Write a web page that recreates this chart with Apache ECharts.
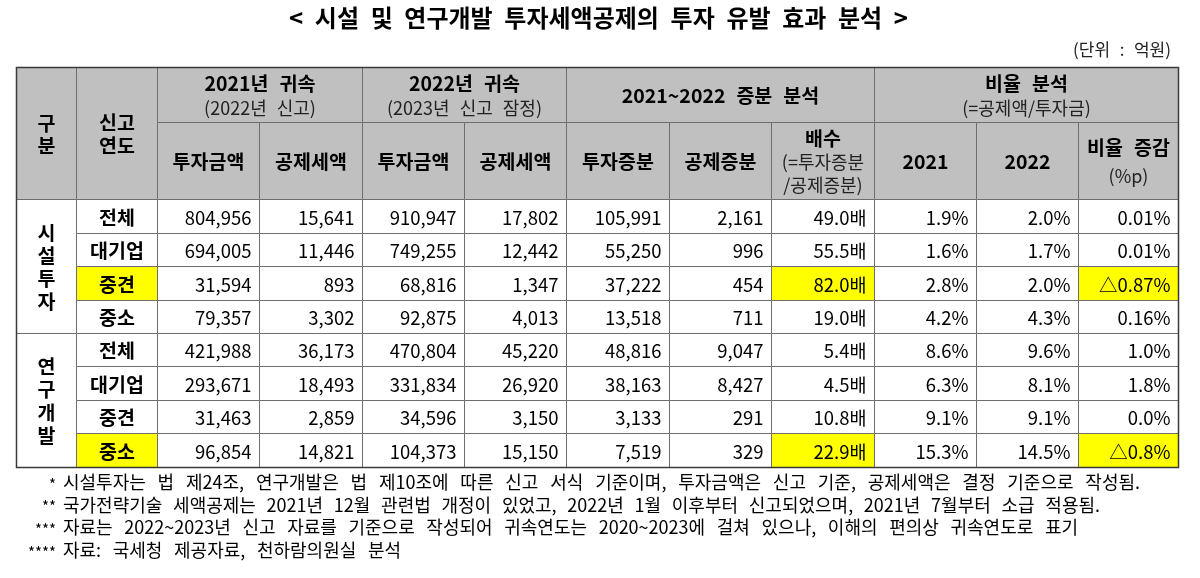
<!DOCTYPE html>
<html><head><meta charset="utf-8">
<script src="https://cdn.jsdelivr.net/npm/echarts@6/dist/echarts.min.js"></script>
<style>html,body{margin:0;padding:0;background:#fff}#c{width:1200px;height:578px}</style>
</head><body><div id="c"></div>
<script>
// ---- data ----
const titleText = '< 시설 및 연구개발 투자세액공제의 투자 유발 효과 분석 >';
const unitText = '(단위 : 억원)';
const groups = ['시설투자', '연구개발'];
const rowLabels = ['전체', '대기업', '중견', '중소', '전체', '대기업', '중견', '중소'];
const invest2021 = [804956, 694005, 31594, 79357, 421988, 293671, 31463, 96854];
const credit2021 = [15641, 11446, 893, 3302, 36173, 18493, 2859, 14821];
const invest2022 = [910947, 749255, 68816, 92875, 470804, 331834, 34596, 104373];
const credit2022 = [17802, 12442, 1347, 4013, 45220, 26920, 3150, 15150];
const investInc = [105991, 55250, 37222, 13518, 48816, 38163, 3133, 7519];
const creditInc = [2161, 996, 454, 711, 9047, 8427, 291, 329];
const multiple = [49.0, 55.5, 82.0, 19.0, 5.4, 4.5, 10.8, 22.9];
const ratio2021 = [1.9, 1.6, 2.8, 4.2, 8.6, 6.3, 9.1, 15.3];
const ratio2022 = [2.0, 1.7, 2.0, 4.3, 9.6, 8.1, 9.1, 14.5];
const ratioChange = ['0.01%', '0.01%', '△0.87%', '0.16%', '1.0%', '1.8%', '0.0%', '△0.8%'];
const highlighted = [[2, 1], [2, 8], [2, 11], [7, 1], [7, 8], [7, 11]];
const footMarks = ['*', '**', '***', '****'];
const footTexts = [
  '시설투자는 법 제24조, 연구개발은 법 제10조에 따른 신고 서식 기준이며, 투자금액은 신고 기준, 공제세액은 결정 기준으로 작성됨.',
  '국가전략기술 세액공제는 2021년 12월 관련법 개정이 있었고, 2022년 1월 이후부터 신고되었으며, 2021년 7월부터 소급 적용됨.',
  '자료는 2022~2023년 신고 자료를 기준으로 작성되어 귀속연도는 2020~2023에 걸쳐 있으나, 이해의 편의상 귀속연도로 표기',
  '자료: 국세청 제공자료, 천하람의원실 분석'
];

// ---- layout ----
const colEdges = [0, 60, 141, 243, 346, 448, 550, 653, 755, 858, 960, 1062, 1162];
const rowEdges = [0, 55, 132.6];
for (let i = 1; i <= 8; i++) rowEdges.push(132.6 + i * 33.43);
const footEnds = [1140, 1100, 1078, 401];
const FONT = '"Noto Sans CJK KR", "Noto Sans", sans-serif';
const HEAD_BG = '#c0c0c0', YEL = '#ffff00';
const BOLD_SIZE = 19.5, SUB_SIZE = 18, NUM_SIZE = 18.5;

const mctx = document.createElement('canvas').getContext('2d');
function measure(t, font) { mctx.font = font; return mctx.measureText(t).width; }
function spaced(text, size, weight, target) {
  const font = weight + ' ' + size + 'px ' + FONT;
  const words = text.split(' ');
  const w = words.reduce((s, x) => s + measure(x, font), 0);
  const sp = words.length > 1 ? Math.max(3, (target - w) / (words.length - 1)) : 0;
  return {text: words.join('{s| }'), rich: {s: {width: sp, fontSize: size, fontFamily: FONT}}};
}
const tok = (st, t) => t.split(' ').map(w => '{' + st + '|' + w + '}').join('{s' + st + '| }');

const fmt = v => v.toLocaleString('en-US');
const cells = [];
function add(c0, c1, r0, r1, text, o) { cells.push(Object.assign({c0, c1, r0, r1, text}, o || {})); }
add(0, 1, 0, 2, '구\n분', {head: true, bold: true, lh: 22});
add(1, 2, 0, 2, '신고\n연도', {head: true, bold: true, lh: 23});
add(2, 4, 0, 1, tok('b', '2021년 귀속') + '\n' + tok('n', '(2022년 신고)'), {head: true});
add(4, 6, 0, 1, tok('b', '2022년 귀속') + '\n' + tok('n', '(2023년 신고 잠정)'), {head: true});
add(6, 9, 0, 1, tok('b', '2021~2022 증분 분석'), {head: true});
add(9, 12, 0, 1, tok('b', '비율 분석') + '\n' + tok('n', '(=공제액/투자금)'), {head: true});
const sub = ['투자금액', '공제세액', '투자금액', '공제세액', '투자증분', '공제증분'];
sub.forEach((t, i) => add(2 + i, 3 + i, 1, 2, t, {head: true, bold: true}));
add(8, 9, 1, 2, tok('b', '배수') + '\n' + tok('n', '(=투자증분') + '\n' + tok('n', '/공제증분)'), {head: true, lh: 23});
add(9, 10, 1, 2, '2021', {head: true, bold: true});
add(10, 11, 1, 2, '2022', {head: true, bold: true});
add(11, 12, 1, 2, tok('b', '비율 증감') + '\n' + tok('n', '(%p)'), {head: true, lh: 28});
groups.forEach((g, gi) => add(0, 1, 2 + gi * 4, 6 + gi * 4, g.split('').join('\n'), {bold: true, lh: 23}));
const isHi = (r, c) => highlighted.some(h => h[0] === r && h[1] === c);
rowLabels.forEach((lab, r) => {
  const rr = 2 + r;
  add(1, 2, rr, rr + 1, lab, {bold: true, bg: isHi(r, 1) ? YEL : '#fff'});
  const vals = [fmt(invest2021[r]), fmt(credit2021[r]), fmt(invest2022[r]), fmt(credit2022[r]),
    fmt(investInc[r]), fmt(creditInc[r]), multiple[r].toFixed(1) + '배',
    ratio2021[r].toFixed(1) + '%', ratio2022[r].toFixed(1) + '%', ratioChange[r]];
  vals.forEach((v, i) => add(2 + i, 3 + i, rr, rr + 1, v, {right: true, bg: isHi(r, 2 + i) ? YEL : '#fff'}));
});

function renderItem(params, api) {
  const cell = cells[params.dataIndex];
  const p0 = api.coord([colEdges[cell.c0], rowEdges[cell.r0]]);
  const p1 = api.coord([colEdges[cell.c1], rowEdges[cell.r1]]);
  const x0 = Math.round(p0[0]) + 0.5, y0 = Math.round(p0[1]) + 0.5;
  const x1 = Math.round(p1[0]) + 0.5, y1 = Math.round(p1[1]) + 0.5;
  const lh = cell.lh || 25;
  const ts = {
    text: cell.text, fill: '#000', fontFamily: FONT, fontSize: cell.bold ? BOLD_SIZE : NUM_SIZE,
    fontWeight: cell.bold ? 'bold' : 'normal', verticalAlign: 'middle', lineHeight: lh,
    rich: {
      b: {fontFamily: FONT, fontSize: BOLD_SIZE, fontWeight: 'bold', lineHeight: lh, fill: '#000'},
      n: {fontFamily: FONT, fontSize: SUB_SIZE, fontWeight: 'normal', lineHeight: lh, fill: '#222'},
      sb: {fontFamily: FONT, fontSize: BOLD_SIZE, width: 11, lineHeight: lh},
      sn: {fontFamily: FONT, fontSize: SUB_SIZE, width: 10, lineHeight: lh}
    },
    y: (y0 + y1) / 2 + 1
  };
  if (cell.right) { ts.x = x1 - 8; ts.align = 'right'; } else { ts.x = (x0 + x1) / 2; ts.align = 'center'; }
  return {type: 'group', children: [{
    type: 'rect', shape: {x: x0, y: y0, width: x1 - x0, height: y1 - y0},
    style: {fill: cell.bg || (cell.head ? HEAD_BG : '#fff'), stroke: '#6e6e6e', lineWidth: 1}
  }, {type: 'text', style: ts}]};
}

const chart = echarts.init(document.getElementById('c'), null, {renderer: 'canvas'});
const tt = spaced(titleText, 24, 'bold', 619);
const ut = spaced(unitText, 17, 'normal', 98);
const graphics = [
  {type: 'text', x: 289, y: 18, style: {text: tt.text, rich: tt.rich, fontSize: 24, fontWeight: 'bold', fontFamily: FONT, fill: '#000', verticalAlign: 'middle'}},
  {type: 'text', x: 1171, y: 50, style: {text: ut.text, rich: ut.rich, fontSize: 17, fontFamily: FONT, fill: '#222', align: 'right', verticalAlign: 'middle'}}
];
footTexts.forEach((t, i) => {
  const y = 482 + i * 22.7;
  const startX = 63;
  const ft = spaced(t, 18, 'normal', footEnds[i] - startX);
  graphics.push({type: 'text', x: 56, y: y + 2, style: {text: footMarks[i], fontSize: 15, fontFamily: FONT, fill: '#000', align: 'right', verticalAlign: 'middle'}});
  graphics.push({type: 'text', x: startX, y: y, style: {text: ft.text, rich: ft.rich, fontSize: 18, fontFamily: FONT, fill: '#000', align: 'left', verticalAlign: 'middle'}});
});
chart.setOption({
  animation: false,
  backgroundColor: '#fff',
  grid: {left: 16, top: 66.7, width: 1162, height: 400, containLabel: false},
  xAxis: {type: 'value', min: 0, max: 1162, show: false},
  yAxis: {type: 'value', min: 0, max: 400, inverse: true, show: false},
  series: [{
    type: 'custom', renderItem: renderItem, silent: true, clip: false,
    data: cells.map(c => [(colEdges[c.c0] + colEdges[c.c1]) / 2, (rowEdges[c.r0] + rowEdges[c.r1]) / 2])
  }, {
    type: 'custom', silent: true, data: [[0, 0]],
    renderItem: (p, api) => {
      const a = api.coord([0, 0]), b = api.coord([1162, 400]);
      return {type: 'rect', shape: {x: Math.round(a[0]) + 0.5, y: Math.round(a[1]) + 0.5, width: Math.round(b[0] - a[0]), height: Math.round(b[1] - a[1])},
        style: {fill: 'none', stroke: '#3a3a3a', lineWidth: 1.5}};
    }
  }],
  graphic: graphics
});
</script></body></html>
